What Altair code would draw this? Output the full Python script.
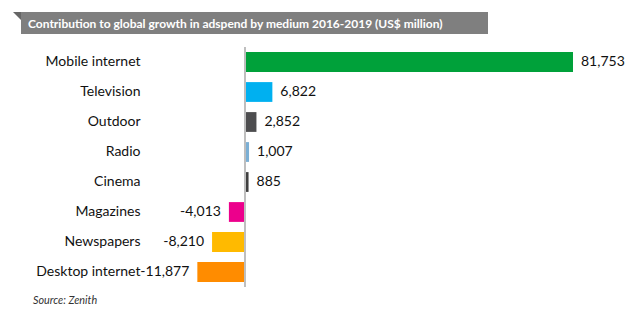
import altair as alt
import pandas as pd

categories = ["Mobile internet", "Television", "Outdoor", "Radio", "Cinema",
              "Magazines", "Newspapers", "Desktop internet"]
values = [81753, 6822, 2852, 1007, 885, -4013, -8210, -11877]
colors = ["#00A13A", "#00B0F0", "#4D4D4F", "#7BAFD4", "#3F3F3F",
          "#EC008C", "#FFBA00", "#FF8C00"]
title_text = "Contribution to global growth in adspend by medium 2016-2019 (US$ million)"
source_text = "Source: Zenith"

df = pd.DataFrame({
    "medium": categories,
    "value": values,
    "color": colors,
    "label": [f"{v:,}" for v in values],
})

FONT = "Lato"
xscale = alt.Scale(domain=[-23678, 93467], nice=False, zero=False)
yenc = alt.Y("medium:N", sort=categories,
             scale=alt.Scale(paddingInner=0.34, paddingOuter=0.17),
             axis=alt.Axis(title=None, domain=False, ticks=False, labelPadding=10,
                           labelFontSize=14, labelFont=FONT, labelColor="#111111"))

base = alt.Chart(df)

bars = base.mark_bar().encode(
    x=alt.X("value:Q", scale=xscale, axis=None),
    y=yenc,
    color=alt.Color("color:N", scale=None),
)

zero_line = base.mark_rule(color="#bfbfbf", strokeWidth=1.5).encode(
    x=alt.datum(0, scale=xscale), y=alt.value(0), y2=alt.value(240)
)

pos_labels = base.transform_filter("datum.value >= 0").mark_text(
    align="left", baseline="middle", dx=8, fontSize=14, font=FONT, color="#111111"
).encode(x=alt.X("value:Q", scale=xscale), y=alt.Y("medium:N", sort=categories), text="label:N")

neg_labels = base.transform_filter("datum.value < 0").mark_text(
    align="right", baseline="middle", dx=-8, fontSize=14, font=FONT, color="#111111"
).encode(x=alt.X("value:Q", scale=xscale), y=alt.Y("medium:N", sort=categories), text="label:N")

banner = alt.Chart(pd.DataFrame({"t": [title_text]})).mark_rect(color="#7f7f7f").encode(
    x=alt.value(-129), x2=alt.value(338), y=alt.value(-35), y2=alt.value(-13)
)
fold = alt.Chart(pd.DataFrame({"t": [title_text]})).mark_point(
    shape="M -1 -1 L 1 -1 L 1 1 Z", filled=True, color="#666666", size=64, opacity=1
).encode(x=alt.value(-133), y=alt.value(-31))
title = alt.Chart(pd.DataFrame({"t": [title_text]})).mark_text(
    align="left", baseline="middle", fontSize=12, fontWeight="bold", font=FONT, color="white"
).encode(x=alt.value(-122), y=alt.value(-23.5), text="t:N")
source = alt.Chart(pd.DataFrame({"t": [source_text]})).mark_text(
    align="left", baseline="middle", fontSize=10.8, fontStyle="italic", font=FONT, color="#333333"
).encode(x=alt.value(-117), y=alt.value(254), text="t:N")

chart = alt.layer(bars, zero_line, pos_labels, neg_labels, banner, fold, title, source).properties(
    width=470, height=240,
    autosize=alt.AutoSizeParams(type="none"),
    padding={"left": 150, "top": 47, "right": 10, "bottom": 34},
).configure(background="white").configure_view(strokeWidth=0, stroke=None)

chart.save("out.html", embed_options={"renderer": "svg", "actions": False})
